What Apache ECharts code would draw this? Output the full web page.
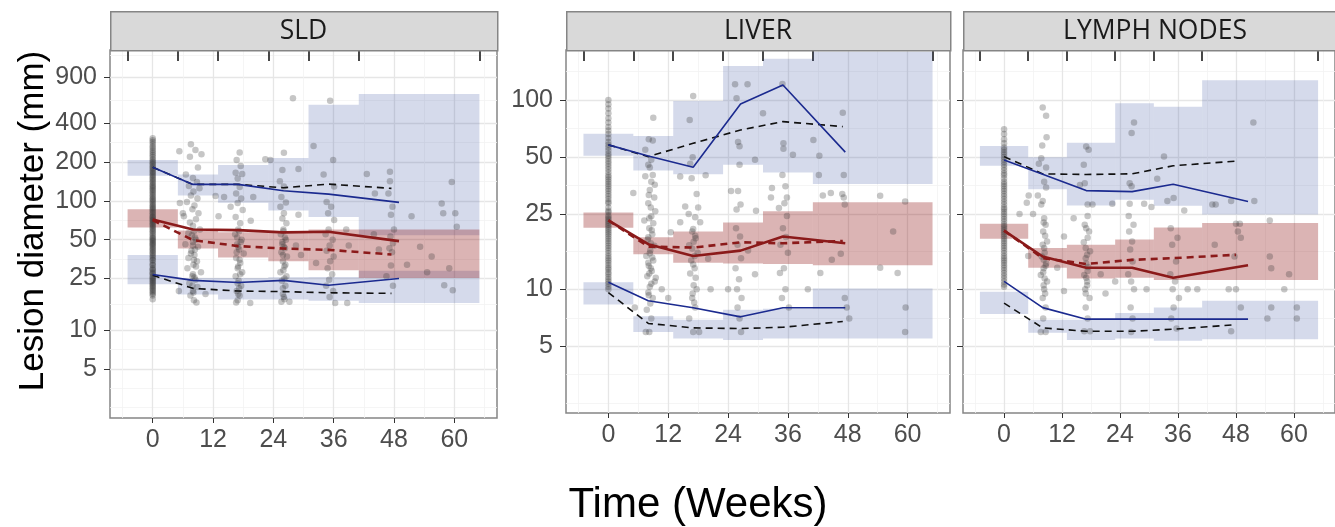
<!DOCTYPE html>
<html lang="en">
<head>
<meta charset="UTF-8">
<title>Lesion diameter over time</title>
<script src="https://cdn.jsdelivr.net/npm/echarts@6/dist/echarts.min.js"></script>
<style>html,body{margin:0;padding:0;background:#fff;}</style>
</head>
<body>
<div id="main" style="width:1335px;height:527px;"></div>
<script>
// --- axes ---
var binEdges = [-5, 5, 13, 23, 31, 41, 65];          // time bins, ticks on top
var xLabels = [0, 12, 24, 36, 48, 60];
var xMinor = [-6, 6, 18, 30, 42, 54, 66];
var yLabelsSld = [5, 10, 25, 50, 100, 200, 400, 900];
var yMinorSld = [2.5, 3.54, 7.07, 15.8, 35.4, 70.7, 141, 283, 600, 1350];
var yLabelsOrgan = [5, 10, 25, 50, 100];
var yMinorOrgan = [2.5, 3.54, 7.07, 15.8, 35.4, 70.7, 141];

// --- SLD ---
var sldUpperBand = [[156, 207], [110, 160], [96.5, 189], [84, 215], [75, 555], [54, 671]];
var sldMedianBand = [[62, 86], [42.8, 59], [36.4, 57], [34, 58], [29, 60], [25.3, 60]];
var sldLowerBand = [[22.6, 38], [18.8, 25.3], [17.2, 25.3], [17.2, 25.6], [16.8, 25.7], [16.2, 28.7]];
var sldObsWeeks = [0, 8, 17, 26, 35, 49];
var sldPredWeeks = [0, 8, 17, 26, 35, 47.5];
var sldObsUpper = [181.6, 134, 134, 119.5, 112.7, 97.2];
var sldObsMedian = [71.7, 60, 59.3, 57, 57.6, 48.7];
var sldObsLower = [26.9, 24.2, 23.3, 24.2, 22.2, 25];
var sldPredUpper = [181.6, 134, 134, 126.3, 134.7, 124.8];
var sldPredMedian = [70.9, 49.6, 44.6, 42.7, 41.7, 38.4];
var sldPredLower = [26.5, 21, 20, 19.8, 19.4, 19.2];
var sldBaseline = [305, 295, 285, 275, 265, 256, 248, 240, 232, 225, 218, 211, 205, 200, 195, 190, 185, 180, 176, 172, 168, 164, 160, 156, 152, 148, 145, 141, 138, 134, 131, 128, 125, 122, 119, 116, 113, 110, 107, 104, 102, 99.5, 97, 94.5, 92, 90, 88, 86, 84, 82, 80, 78, 76, 74.5, 73, 71.5, 70, 68.5, 67, 65.5, 64, 62.5, 61, 59.5, 58, 56.5, 55, 53.5, 52, 51, 50, 49, 48, 47, 46, 45, 44, 43, 42, 41, 40, 39, 38, 37, 36, 35, 34.5, 33, 32, 31.5, 30, 29.5, 29, 28, 27.5, 27, 26, 25.5, 25, 24.5, 24, 23.5, 23, 22.5, 22, 21.5, 21, 20.5, 20, 19.5, 19, 18.5, 17.3];
var sldFollowUp = [
  [5.3,242],[7.6,274],[8.5,247],[7.4,219],[9.7,229],[9.0,181],[6.6,160],[8.0,150],[8.8,140],[7.2,130],[9.3,125],[8.1,118],[7.6,110],[8.9,104],[6.8,98],[8.3,92],[7.9,86],[9.1,80],[6.2,76],[8.6,72],[7.4,68],[8.0,64],[9.4,60],[7.1,56],[8.4,52],[8.0,48],[6.5,46],[9.0,44],[7.7,41],[8.3,38],[7.1,36],[8.8,34],[8.1,32],[6.9,30],[9.6,28],[7.9,26],[8.5,24.5],[7.3,23],[8.9,21.5],[8.0,20],[7.5,18.5],[8.2,17],[8.7,16.3],[5.2,20],[10.5,19],[5.4,96],[6.0,80],[12.5,109],[14.2,107],[13.1,76],
  [8.2,58],[7.8,54],[8.6,50],[8.0,45],[8.4,42],[7.6,39],[8.2,35],[8.6,31],[8.0,27],[8.3,25.5],[7.9,22],[8.1,19.5],
  [17.3,237],[16.7,207],[17.5,186],[16.5,165],[17.8,161],[16.9,149],[17.3,128],[16.6,114],[17.6,104],[16.9,96],[17.9,85],[16.5,75],[17.4,67],[17,60],[16.4,55],[17.7,50],[16.8,46],[17.2,42],[18.1,39],[16.6,36],[17.4,33],[16.9,30],[17.8,28],[16.5,26],[17.1,24],[17.6,22],[16.7,20],[17.3,18.5],[16.9,17],[16.6,16.3],[19.4,16.2],[22.4,210],[20,107],[15.5,90],[19.5,70],
  [17.2,58],[16.8,52],[17.5,48],[17,44],[16.7,40],[17.3,35],[17,31],[17.4,27],[16.9,23],[17.2,21],[17,19],
  [26.1,236],[25.8,173],[29,176],[25.3,142],[26.1,129],[25.6,107],[26.5,97],[25.4,90],[26.1,80],[25.8,73],[26.6,67],[29,78],[23.4,207],[26,60],[25.5,55],[26.5,50],[25.8,46],[26.3,43],[25.6,40],[26.7,37],[25.9,34],[26.2,31],[25.4,28],[26.6,26],[25.7,24],[26.4,22],[25.9,19],[26.2,17.3],[25.6,16.5],[27.2,16.5],[28.5,45],[29.5,38],
  [26,58],[26.3,52],[25.8,48],[26.1,44],[25.9,38],[26.4,32],[26,29],[26.2,25],[25.9,21],[26.1,18],
  [27.9,622],[35.3,595],[32,266],[35.9,207],[34,160],[36.1,129],[34.6,98],[35.5,90],[34.9,80],[36.1,71],[35,60],[34.4,55],[35.8,50],[35.2,45],[34.6,41],[36,37],[35.3,34],[34.8,30],[35.7,27],[35.1,24.5],[34.5,22],[35.9,20],[35.2,18],[36.3,16.2],[38.7,16.2],[38.5,60],[39,45],[32.5,33],
  [42.6,161],[44.2,114],[47.2,168],[47.2,142],[46.9,114],[47.7,90],[47.4,78],[48,60],[47.3,53],[47.8,47],[47.1,43],[47.6,40],[47.4,31.5],[44,55],[45,42],[46.5,26],[47.8,22],
  [51.5,76],[57.5,95.5],[57.8,80],[60.2,80],[59.5,140],[60.5,63],[53.2,44],[55.5,37],[59,30],[54.6,28],[58,22.2],[59.7,20.3],[50.6,32]
];

// --- LIVER ---
var liverUpperBand = [[50.8, 66.2], [42.4, 64.5], [40.5, 98.8], [45.4, 151], [41.4, 165], [36, 180]];
var liverMedianBand = [[21.1, 25.4], [15.3, 18.8], [13.8, 20.2], [13.7, 22.5], [13.6, 25.8], [13.4, 28.8]];
var liverLowerBand = [[8.3, 10.9], [5.95, 7.2], [5.5, 6.9], [5.4, 7.8], [5.5, 7.9], [5.5, 10.1]];
var liverObsWeeks = [0, 8, 17, 26.5, 35, 47.5];
var liverPredWeeks = [0, 8, 17, 26.5, 35, 47];
var liverObsUpper = [57.9, 50.6, 44.1, 95.3, 120, 53];
var liverObsMedian = [23.1, 17.3, 15.0, 16.0, 19.0, 17.5];
var liverObsLower = [10.9, 8.7, 7.98, 7.15, 7.98, 7.98];
var liverPredUpper = [57.9, 50.2, 59, 69.4, 76.8, 72.3];
var liverPredMedian = [23.1, 16.8, 16.6, 17.7, 17.5, 18.0];
var liverPredLower = [9.6, 6.6, 6.25, 6.2, 6.3, 6.76];
var liverBaseline = [100, 95, 90, 85, 80, 76, 72, 69, 66, 63, 60, 58, 56, 54, 52, 50.5, 49, 47.5, 46, 44.5, 43, 41.5, 40, 39, 38, 37, 36, 35, 34, 33, 32, 31, 30, 29, 28.5, 27, 26, 25.5, 24.5, 24, 23.5, 23, 22.5, 22, 21.5, 21, 20.5, 20, 19.5, 19, 18.5, 18, 17.5, 17, 16.5, 16, 15.5, 15, 14.6, 14.2, 13.8, 13.4, 13, 12.7, 12.3, 12, 11.6, 11.3, 11, 10.7, 10.3, 10];
var liverFollowUp = [
  [9.0,80.6],[8.1,62],[8.9,61],[7.4,54.5],[8.6,48.3],[8.0,45.5],[8.9,40.2],[7.4,39.5],[9.3,35.6],[8.3,33.4],[5.0,32.2],[9.2,30.5],[8.0,28.5],[9.4,25.8],[8.6,24.3],[7.2,23.1],[9.0,22.3],[8.2,21],[8.8,19.5],[7.9,18.3],[9.2,17],[8.4,16],[7.6,15],[9.0,14.2],[8.1,13.3],[8.7,12.5],[7.8,11.7],[9.3,11],[8.3,10.3],[8.0,9.6],[8.9,9],[8.4,8.4],[7.7,7.8],[8.6,7.0],[8.2,5.95],[7.5,5.95],[5.3,8.0],[10.7,10],[12,9],[9.5,11.5],[12.5,20],
  [8.3,44],[8.6,37],[8.1,31.5],[8.5,27],[8.2,23.7],[8.7,20.5],[8.0,18.8],[8.5,17.5],[8.3,15.5],[8.8,14.7],[8.0,13.8],[8.5,12.9],[8.2,12.1],[8.6,10.7],[8.1,9.3],
  [17,105],[16.3,78.4],[16.9,49.8],[16.4,46],[14.4,39.4],[16.7,38.6],[17.7,31.9],[15.4,27.4],[18,27],[16.1,25],[17.4,24],[18.4,22.6],[14.4,22.6],[16.8,20.2],[17.5,18.6],[16.2,17.1],[17.9,15.6],[16.6,14.2],[17.3,12.9],[16.4,12.1],[17.7,10.0],[16.8,9.0],[17.4,8.0],[16.2,7.0],[17.0,5.95],[18.2,5.95],[20.5,10],[20,14.5],[19.5,40],
  [17,20.8],[17.4,19.2],[17.1,17.8],[16.8,16.4],[17.3,15],[17,13.5],[17.5,11.5],[17.1,10.5],[16.9,9.5],[17.2,8.5],
  [25.4,121],[27.9,121],[25.7,102],[26,60],[26.3,57],[26.3,45.5],[24.6,33],[26,33],[26.5,28],[25.7,26.4],[29.4,48.3],[31,85],[32.8,34.3],[29.6,26],[25.6,21],[26.4,19],[25.9,17.2],[26.6,14.6],[25.5,12.9],[26.2,11.3],[25.8,10],[26.7,9],[25.9,8],[26.3,7],[26.6,5.95],[29.4,12],[24,10],[28,16],
  [34.9,121.5],[35.1,59],[35.1,55.2],[37,51.3],[34.9,40.2],[35.5,35],[35.8,30.5],[35.3,28.5],[34.2,26.9],[35.8,24.4],[32.6,30.5],[35,21],[35.6,18.9],[34.5,17.2],[36,15.6],[35.2,12.9],[34.4,12.2],[35.5,10],[34.8,9],[36.2,8],[41.1,61.5],[42.3,50.8],[42.2,40.2],[43,31.3],[44.6,32.2],[42.5,12.2],[44.8,14.3],[40,10],
  [47,85.7],[47.2,40.2],[46.9,31.9],[47.2,30.5],[47.4,28],[46.6,15.4],[47.4,9],[47.8,8],[48.3,7.0],
  [54.5,31.2],[59.5,29.1],[57.1,20.2],[54.5,13],[58,12.2],[59.6,8],[59.5,5.95]
];

// --- LYMPH NODES ---
var lymphUpperBand = [[44.9, 57.2], [33.8, 49.8], [27.7, 59.5], [29.7, 96], [27.6, 92], [24.8, 127]];
var lymphMedianBand = [[18.5, 22.2], [13.0, 16.5], [11.4, 17.2], [11.5, 18.3], [11.2, 21.2], [11.2, 22.4]];
var lymphLowerBand = [[7.4, 9.7], [5.9, 6.9], [5.4, 6.9], [5.5, 7.5], [5.35, 8.0], [5.45, 8.7]];
var lymphObsWeeks = [0, 8, 17, 26.5, 35, 50.5];
var lymphPredWeeks = [0, 8, 17, 26.5, 35, 48];
var lymphObsUpper = [48.2, 40.5, 33.2, 32.8, 35.9, 29.1];
var lymphObsMedian = [20.4, 14.9, 13.0, 13.0, 11.5, 13.4];
var lymphObsLower = [11.0, 8.0, 6.95, 6.95, 6.95, 6.95];
var lymphPredUpper = [50.2, 40.7, 40.4, 40.7, 44.9, 47.5];
var lymphPredMedian = [20.4, 14.6, 13.6, 14.3, 14.6, 15.2];
var lymphPredLower = [8.45, 6.25, 6.0, 6.0, 6.15, 6.5];
var lymphBaseline = [70, 66, 62, 59, 56, 54.5, 53, 51.5, 50, 48.5, 47, 45.5, 44, 42.5, 41, 40, 38.5, 37, 36, 35, 34, 33, 32, 31, 30, 29, 28, 27, 26.5, 25.7, 25, 24.2, 23.5, 22.8, 22, 21.5, 21, 20.5, 20, 19.5, 19, 18.5, 18, 17.5, 17, 16.5, 16, 15.5, 15, 14.6, 14.2, 13.8, 13.4, 13, 12.6, 12.2, 11.8, 11.4, 11, 10.6, 10.3];
var lymphFollowUp = [
  [8,91.1],[8.7,82.6],[8.8,63.5],[7.9,57.5],[7.7,49.2],[7.2,46],[8.7,44],[8.3,37],[8.7,34.5],[5.1,31.3],[7,31.3],[8,29.3],[4.7,28.6],[7.7,28],[3.2,25],[6,25],[8.3,23.7],[8.6,21.9],[8.1,20.2],[8.9,17.9],[8.3,16.5],[7.8,14.9],[8.7,13.7],[8.2,12.9],[7.6,11.9],[8.9,11],[8.3,10],[8.0,9],[8.6,8],[8.1,7],[7.6,5.95],[8.6,5.95],[12.4,19],[12.4,9.8],[5,15],[11,13],
  [8.2,22.5],[8.5,19.2],[8.0,17.2],[8.4,15.6],[8.2,14.3],[8.6,13.3],[8.1,12.3],[8.4,11.4],[8.2,10.5],[8.5,9.5],
  [17,56.7],[17.5,54.5],[16.5,45.4],[16.7,36.3],[15.7,35.5],[17.3,28],[18.3,28],[14.4,23.7],[17.3,24.4],[16.7,21.9],[17.6,20.2],[16.5,17.7],[17.8,15.9],[16.9,14.6],[17.4,13.1],[16.6,11.9],[17.2,11],[16.8,10],[17.7,9],[16.9,8],[17.3,7],[16.6,6.0],[17.8,6.0],[20,12],[21,9.5],
  [17,21],[17.3,18.7],[16.9,16.5],[17.2,15.2],[17,13.7],[17.3,12.5],[17,11.5],[17.2,10.5],[16.9,9.5],
  [26.9,75.9],[26.4,67],[33.1,50.2],[31.7,38.3],[26,36.3],[26.4,35],[22.4,28.3],[26,28.3],[29,28.3],[30.5,27.2],[25.8,24.4],[26.8,21.9],[25.9,20.2],[26.5,17.9],[26.1,16.2],[26.6,14],[25.7,12],[26.3,11],[26.9,10],[26.2,8],[26.6,7],[26.3,5.95],[23,11],[29.5,10],
  [35.1,30.3],[33.8,29.3],[37.3,26.1],[34.5,21],[35.9,18.7],[34.8,17.2],[35.6,14],[34.4,12],[35.4,11],[34.9,10],[36.2,9],[35.1,8],[34.6,7],[35.7,6.2],[38,10],[40,10],
  [43.1,28],[43.8,28],[47,29.3],[48,22.2],[48.8,22.2],[51.8,29.3],[51.6,75.9],[55,23.1],[48.4,20.2],[49,18.7],[43.6,17.2],[47.7,14.9],[46.5,10],[48,10],[49,8],[55,14.9],[55.3,12.9],[59,12],[58,10],[60.6,8],[55.3,8],[60.6,7],[54.5,7],[47,6]
];

var panels = [
  { title: 'SLD', left: 110, top: 50, width: 387, height: 368, yMin: 2.08, yMax: 1472,
    yLabels: yLabelsSld, yMinor: yMinorSld, showYLabels: true,
    bands: [sldUpperBand, sldLowerBand, sldMedianBand],
    obsWeeks: sldObsWeeks, predWeeks: sldPredWeeks,
    obs: [sldObsUpper, sldObsMedian, sldObsLower], pred: [sldPredUpper, sldPredMedian, sldPredLower],
    baseline: sldBaseline, followUp: sldFollowUp },
  { title: 'LIVER', left: 566, top: 50, width: 384, height: 363, yMin: 2.22, yMax: 183.6,
    yLabels: yLabelsOrgan, yMinor: yMinorOrgan, showYLabels: true,
    bands: [liverUpperBand, liverLowerBand, liverMedianBand],
    obsWeeks: liverObsWeeks, predWeeks: liverPredWeeks,
    obs: [liverObsUpper, liverObsMedian, liverObsLower], pred: [liverPredUpper, liverPredMedian, liverPredLower],
    baseline: liverBaseline, followUp: liverFollowUp },
  { title: 'LYMPH NODES', left: 963, top: 50, width: 384, height: 363, yMin: 2.22, yMax: 183.6,
    yLabels: yLabelsOrgan, yMinor: yMinorOrgan, showYLabels: false,
    bands: [lymphUpperBand, lymphLowerBand, lymphMedianBand],
    obsWeeks: lymphObsWeeks, predWeeks: lymphPredWeeks,
    obs: [lymphObsUpper, lymphObsMedian, lymphObsLower], pred: [lymphPredUpper, lymphPredMedian, lymphPredLower],
    baseline: lymphBaseline, followUp: lymphFollowUp }
];

var LABEL_FONT = 'Liberation Sans, Arial, sans-serif';
var blueBand = 'rgba(45,70,155,0.2)';
var redBand = 'rgba(135,5,5,0.3)';
var blueLine = '#1b2a8f';
var redLine = '#8b1a1a';

var grids = [], xAxes = [], yAxes = [], series = [], graphics = [];

function pairs(weeks, vals) {
  return weeks.map(function (w, i) { return [w, vals[i]]; });
}

function bandSeries(xi, yi, bands, color) {
  return {
    type: 'custom', xAxisIndex: xi, yAxisIndex: yi, silent: true, z: 1,
    encode: { x: [0, 1], y: [2, 3] },
    data: bands.map(function (b, i) { return [binEdges[i], binEdges[i + 1], b[0], b[1]]; }),
    renderItem: function (params, api) {
      var p0 = api.coord([api.value(0), api.value(3)]);
      var p1 = api.coord([api.value(1), api.value(2)]);
      return { type: 'rect', shape: { x: p0[0], y: p0[1], width: p1[0] - p0[0], height: p1[1] - p0[1] },
        style: { fill: color } };
    }
  };
}

function lineSeries(xi, yi, data, color, width, dashed, z) {
  return {
    type: 'line', xAxisIndex: xi, yAxisIndex: yi, data: data, symbol: 'none', silent: true, z: z,
    lineStyle: { color: color, width: width, type: dashed ? [7, 5] : 'solid' }
  };
}

panels.forEach(function (p, g) {
  grids.push({ left: p.left, top: p.top, width: p.width, height: p.height, show: true,
    borderColor: '#858585', borderWidth: 1.5, backgroundColor: '#fff' });

  var xi = xAxes.length;
  // main bottom axis
  xAxes.push({ gridIndex: g, type: 'value', position: 'bottom', min: -8.5, max: 68.5,
    axisLine: { show: false, onZero: false },
    axisTick: { show: true, customValues: xLabels, length: 5, lineStyle: { color: '#333' } },
    axisLabel: { customValues: xLabels, fontSize: 25, color: '#4d4d4d', margin: 10, fontFamily: LABEL_FONT },
    splitLine: { show: true, lineStyle: { color: '#e6e6e6', width: 1.3 } } });
  // minor grid
  xAxes.push({ gridIndex: g, type: 'value', position: 'bottom', min: -8.5, max: 68.5,
    axisLine: { show: false, onZero: false },
    axisTick: { show: false, customValues: xMinor },
    axisLabel: { show: false, customValues: xMinor },
    splitLine: { show: true, lineStyle: { color: '#f3f3f3', width: 0.8 } } });
  // bin edges on top
  xAxes.push({ gridIndex: g, type: 'value', position: 'top', min: -8.5, max: 68.5,
    axisLine: { show: false, onZero: false },
    axisTick: { show: true, inside: true, length: 11, customValues: binEdges, lineStyle: { color: '#1a1a1a', width: 1.6 } },
    axisLabel: { show: false, customValues: binEdges },
    splitLine: { show: false } });

  var yi = yAxes.length;
  yAxes.push({ gridIndex: g, type: 'log', logBase: 10, min: p.yMin, max: p.yMax, position: 'left',
    axisLine: { show: false, onZero: false },
    axisTick: { show: true, customValues: p.yLabels, length: 6, lineStyle: { color: '#333' } },
    axisLabel: { show: p.showYLabels, customValues: p.yLabels, fontSize: 25, color: '#4d4d4d', margin: 13, fontFamily: LABEL_FONT },
    splitLine: { show: true, lineStyle: { color: '#e6e6e6', width: 1.3 } } });
  yAxes.push({ gridIndex: g, type: 'log', logBase: 10, min: p.yMin, max: p.yMax, position: 'left',
    axisLine: { show: false, onZero: false },
    axisTick: { show: false, customValues: p.yMinor },
    axisLabel: { show: false, customValues: p.yMinor },
    splitLine: { show: true, lineStyle: { color: '#f3f3f3', width: 0.8 } } });

  series.push(bandSeries(xi, yi, p.bands[0], blueBand));
  series.push(bandSeries(xi, yi, p.bands[1], blueBand));
  series.push(bandSeries(xi, yi, p.bands[2], redBand));

  series.push({ type: 'scatter', xAxisIndex: xi, yAxisIndex: yi, silent: true, z: 2,
    symbolSize: 6.5, itemStyle: { color: 'rgba(50,50,50,0.35)' },
    data: p.baseline.map(function (v) { return [0, v]; }).concat(p.followUp) });

  series.push(lineSeries(xi, yi, pairs(p.predWeeks, p.pred[0]), '#111', 1.6, true, 3));
  series.push(lineSeries(xi, yi, pairs(p.predWeeks, p.pred[2]), '#111', 1.6, true, 3));
  series.push(lineSeries(xi, yi, pairs(p.predWeeks, p.pred[1]), redLine, 2.6, true, 3));
  series.push(lineSeries(xi, yi, pairs(p.obsWeeks, p.obs[0]), blueLine, 1.6, false, 4));
  series.push(lineSeries(xi, yi, pairs(p.obsWeeks, p.obs[2]), blueLine, 1.6, false, 4));
  series.push(lineSeries(xi, yi, pairs(p.obsWeeks, p.obs[1]), redLine, 2.6, false, 4));

  // facet strip
  graphics.push({ type: 'rect', left: p.left, top: 11, z: 10,
    shape: { width: p.width, height: 39 },
    style: { fill: '#d9d9d9', stroke: '#858585', lineWidth: 1.5 } });
  graphics.push({ type: 'text', x: p.left + p.width / 2, y: 31, z: 11,
    style: { text: p.title, fill: '#1a1a1a', font: '26.5px "Open Sans", sans-serif',
      align: 'center', verticalAlign: 'middle' } });
});

graphics.push({ type: 'text', x: 33, y: 221, rotation: Math.PI / 2, z: 11,
  style: { text: 'Lesion diameter (mm)', fill: '#000', font: '35px "Liberation Sans", Arial, sans-serif',
    align: 'center', verticalAlign: 'middle' } });
graphics.push({ type: 'text', x: 698, y: 505, z: 11,
  style: { text: 'Time (Weeks)', fill: '#000', font: '42px "Liberation Sans", Arial, sans-serif',
    align: 'center', verticalAlign: 'middle' } });

var chart = echarts.init(document.getElementById('main'));
chart.setOption({
  animation: false,
  backgroundColor: '#fff',
  grid: grids,
  xAxis: xAxes,
  yAxis: yAxes,
  series: series,
  graphic: graphics
});
</script>
</body>
</html>
